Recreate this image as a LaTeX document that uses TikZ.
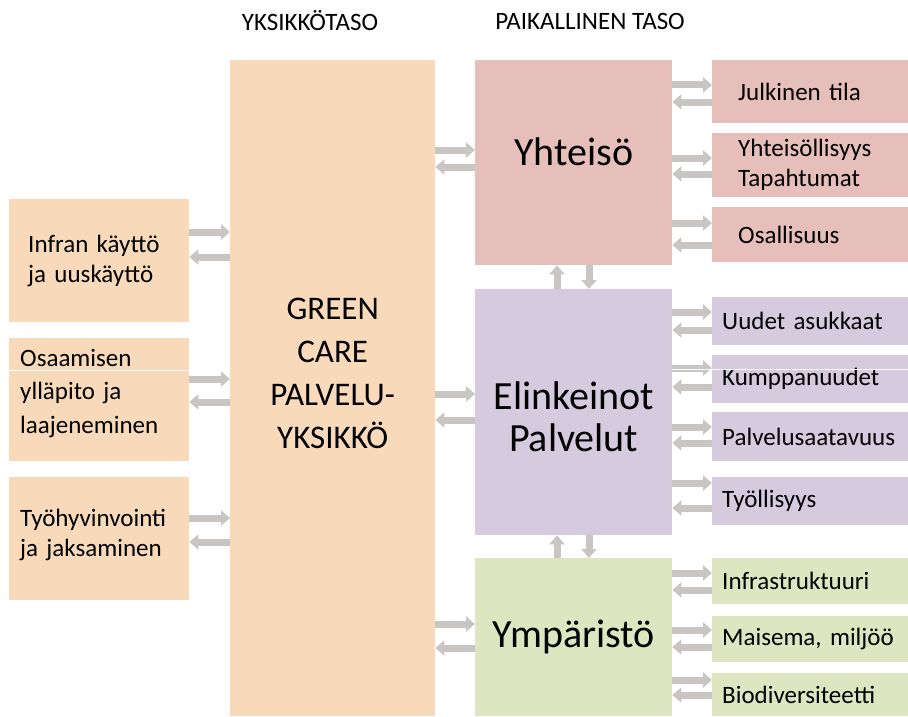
\documentclass[tikz,border=0pt]{standalone}
\usepackage{fontspec}
\setmainfont{Carlito}
\usepackage{xcolor}
\usepackage{tikz}
\usetikzlibrary{arrows.meta}
\usetikzlibrary{positioning}

\definecolor{unitorange}{RGB}{248,218,186}
\definecolor{yhtpink}{RGB}{230,191,187}
\definecolor{elipurple}{RGB}{213,202,222}
\definecolor{ympgreen}{RGB}{222,229,193}
\definecolor{arrowgray}{RGB}{201,197,194}

\begin{document}
\begin{tikzpicture}[x=1pt, y=-1pt,
    box/.style={fill=#1, inner sep=0pt, anchor=north west},
    sidetext/.style={align=left, font=\fontsize{25}{30}\selectfont},
    blk/.style={draw=arrowgray, line width=7pt,
      -{Triangle[length=9pt, width=15pt]}}]

    \useasboundingbox (0,0) rectangle (908,717);

    % levels
    \node[font=\fontsize{25}{30}\selectfont] (unitlevel) at (310,21) {YKSIKKÖTASO};
    \node[font=\fontsize{25}{30}\selectfont] (locallevel) at (590,21) {PAIKALLINEN TASO};

    % unit level
    \node[box=unitorange, minimum width=180pt, minimum height=123pt,
      inner xsep=19pt, text width=142pt, sidetext] (infra) at (9,199)
      {Infran käyttö\\ja uuskäyttö};
    \node[box=unitorange, minimum width=180pt, minimum height=123pt,
      inner xsep=11pt, text width=158pt, sidetext, text depth=84pt,
      font=\fontsize{25}{33.5}\selectfont] (osaam) at (9,338)
      {Osaamisen\\ylläpito ja\\laajeneminen};
    \node[box=unitorange, minimum width=180pt, minimum height=123pt,
      inner xsep=11pt, text width=158pt, sidetext, text depth=42pt] (tyo) at (9,477)
      {Työhyvinvointi\\ja jaksaminen};
    \node[box=unitorange, minimum width=205pt, minimum height=656pt,
      label={[name=gctext, yshift=15pt, align=center,
        font=\fontsize{33}{43}\selectfont]center:GREEN\\CARE\\PALVELU-\\YKSIKKÖ}]
      (gc) at (230,60) {};

    % local level
    \node[box=yhtpink, minimum width=197pt, minimum height=205pt, text depth=22pt,
      font=\fontsize{40}{44}\selectfont] (yht) at (475,60) {Yhteisö};
    \node[box=elipurple, minimum width=197pt, minimum height=246pt, align=center,
      text height=78pt, font=\fontsize{40}{42}\selectfont] (elink) at (475,289)
      {Elinkeinot\\Palvelut};
    \node[box=ympgreen, minimum width=197pt, minimum height=158pt,
      font=\fontsize{40}{44}\selectfont] (ymp) at (475,558) {Ympäristö};

    % sub boxes
    \foreach \name/\col/\y/\h/\txt in {
        julk/yhtpink/60/63/{Julkinen tila},
        yhteis/yhtpink/133/64/{Yhteisöllisyys\\Tapahtumat},
        osall/yhtpink/207/55/{Osallisuus}} {
      \node[box=\col, minimum width=196pt, minimum height=\h pt,
        inner xsep=26pt, text width=144pt, sidetext] (\name) at (712,\y) {\txt};
    }
    \foreach \name/\col/\y/\h/\txt in {
        uudet/elipurple/297/48/{Uudet asukkaat},
        kump/elipurple/355/48/{Kumppanuudet},
        palv/elipurple/412/49/{Palvelusaatavuus},
        tyoll/elipurple/477/48/{Työllisyys},
        infr/ympgreen/558/46/{Infrastruktuuri},
        mais/ympgreen/616/46/{Maisema, miljöö},
        biod/ympgreen/673/43/{Biodiversiteetti}} {
      \node[box=\col, minimum width=196pt, minimum height=\h pt,
        inner xsep=10pt, text width=176pt, sidetext] (\name) at (712,\y) {\txt};
    }

    % arrows, out and back
    \foreach \src/\dst/\ya/\yb in {
        infra/gc/232/257, osaam/gc/379/402, tyo/gc/518/542,
        gc/yht/150/167, gc/elink/394/420, gc/ymp/624/648,
        yht/julk/85/102, yht/yhteis/158/174, yht/osall/223/245,
        elink/uudet/312/330, elink/kump/368/387,
        elink/palv/427/443, elink/tyoll/483/508,
        ymp/infr/573/590, ymp/mais/630/647, ymp/biod/680/695} {
      \draw[blk] (\src.east |- 0,\ya) -- (\dst.west |- 0,\ya);
      \draw[blk] (\dst.west |- 0,\yb) -- (\src.east |- 0,\yb);
    }
    \foreach \upper/\lower in {yht/elink, elink/ymp} {
      \draw[blk] (\lower.north -| 557,0) -- (\upper.south -| 557,0);
      \draw[blk] (\upper.south -| 589,0) -- (\lower.north -| 589,0);
    }

    % thin white seams
    \draw[white, line width=1pt] (osaam.west |- 0,370.5) -- (osaam.east |- 0,370.5);
    \draw[white, line width=1pt] (elink.east |- 0,369) -- (kump.east |- 0,369);

  \end{tikzpicture}
\end{document}
